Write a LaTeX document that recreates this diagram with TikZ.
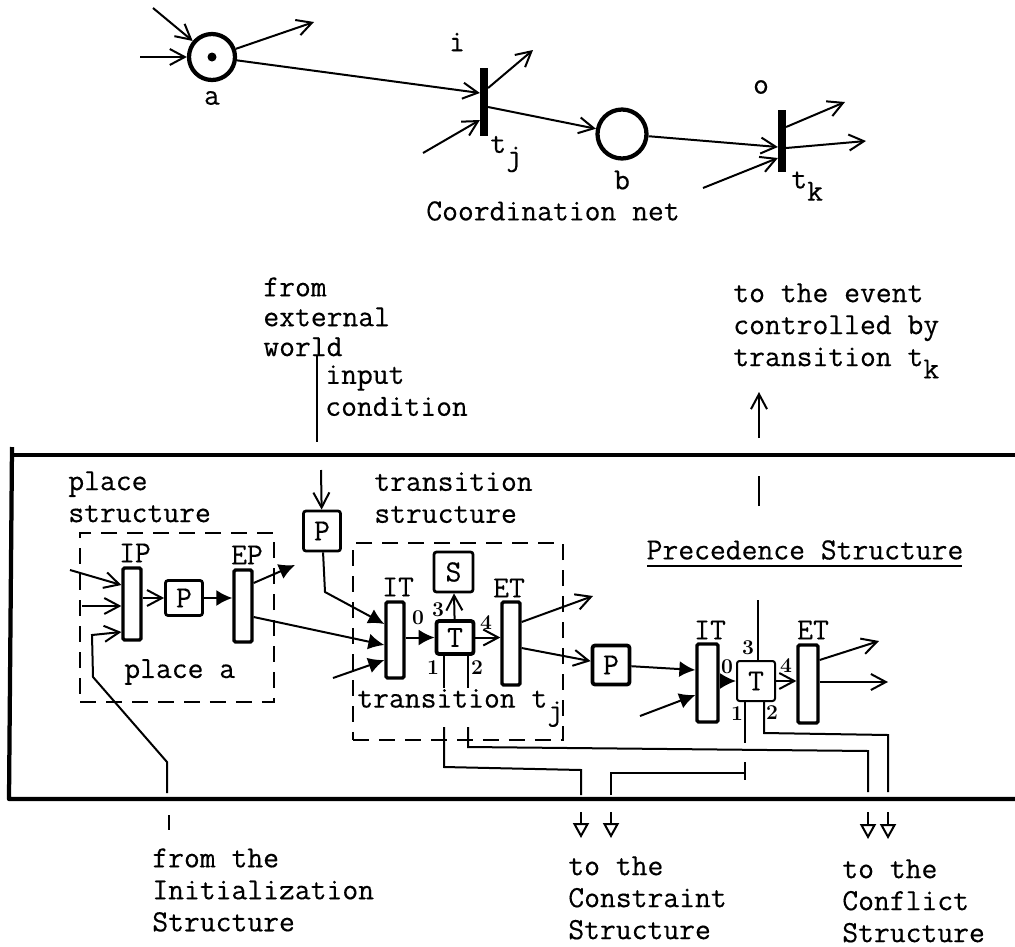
\documentclass[tikz,border=0pt]{standalone}
\usepackage{fontspec}
\usepackage{tikz}
\usetikzlibrary{arrows.meta}
\newfontfamily\typedfont[FakeBold=0.35]{Latin Modern Mono}
\tikzset{
  typed/.style={font=\typedfont\fontsize{17.5}{18.2}\selectfont, inner sep=0pt, align=left},
  smallnum/.style={font=\bfseries\fontsize{12}{12}\selectfont, inner sep=0pt},
  place/.style={circle, draw, line width=0.085cm, minimum size=0.92cm, inner sep=0pt},
  bar/.style={rectangle, fill=black, minimum width=0.15cm, inner sep=0pt},
  pbar/.style={rectangle, draw, line width=0.065cm, rounded corners=0.03cm, minimum width=0.36cm, inner sep=0pt},
  pbox/.style={rectangle, draw, line width=0.055cm, rounded corners=0.05cm, minimum width=0.74cm, minimum height=0.7cm, inner sep=0pt, typed},
  dashbox/.style={rectangle, draw, line width=0.03cm, dash pattern=on 0.32cm off 0.2cm, inner sep=0pt},
  conn/.style={line width=0.04cm},
  openarr/.style={conn, -{Straight Barb[length=0.3cm,width=0.32cm,line width=0.04cm]}},
  fillarr/.style={conn, -{Latex[length=0.32cm,width=0.32cm]}},
  holloarr/.style={conn, -{Triangle[open,length=0.3cm,width=0.32cm,line width=0.04cm]}},
  framerule/.style={line width=0.085cm, line join=round},
}
\newcommand{\lowered}[1]{\raisebox{-7pt}{#1}}
\begin{document}
\begin{tikzpicture}[x=0.02cm, y=-0.02cm]
  \useasboundingbox (0,0) rectangle (1015,947);

  % coordination net
  \node[place] (placeA) at (212,57) {};
  \node[place, minimum size=0.98cm] (placeB) at (622,134) {};
  \fill (placeA) circle (0.09cm);
  \node[bar, minimum height=1.36cm] (barJ) at (484,102) {};
  \node[bar, minimum height=1.24cm] (barK) at (782,141) {};
  \node[typed] (labA) at (212,98) {a};
  \node[typed] (labB) at (622,180) {b};
  \node[typed] (labI) at (457,42) {i};
  \node[typed] (labO) at (761,87) {o};
  \node[typed, anchor=west] (labJ) at (490,154) {t\lowered{j}};
  \node[typed, anchor=west] (labK) at (791,186) {t\lowered{k}};
  \node[typed] (labNet) at (553,211) {Coordination net};
  \coordinate (aIn1) at (153,8);
  \coordinate (aIn2) at (140,57);
  \coordinate (aOut) at (314,22);
  \coordinate (jIn) at (423,153);
  \coordinate (jOut) at (533,50);
  \coordinate (kIn) at (703,188);
  \coordinate (kOut1) at (845,102);
  \coordinate (kOut2) at (866,141);
  \draw[openarr] (aIn1) -- (placeA);
  \draw[openarr] (aIn2) -- (placeA);
  \draw[openarr] (placeA) -- (aOut);
  \draw[openarr] (placeA) -- (barJ.west |- 0,93);
  \draw[openarr] (jIn) -- (barJ.west |- 0,120);
  \draw[openarr] (barJ.east |- 0,88) -- (jOut);
  \draw[openarr] (barJ.east |- 0,107) -- (placeB);
  \draw[openarr] (placeB) -- (barK.west |- 0,147);
  \draw[openarr] (kIn) -- (barK.west |- 0,158);
  \draw[openarr] (barK.east |- 0,127) -- (kOut1);
  \draw[openarr] (barK.east |- 0,148) -- (kOut2);

  % texts around the frame
  \node[typed, anchor=north west, font=\typedfont\fontsize{17.5}{17}\selectfont] (labWorld) at (263,277) {from\\external\\world};
  \node[typed, anchor=north west] (labCond) at (325,365) {input\\condition};
  \node[typed, anchor=north west] (labEvent) at (733,283) {to the event\\controlled by\\transition t\lowered{k}};
  \node[typed, anchor=north west] (labPlace) at (68,471) {place\\structure};
  \node[typed, anchor=north west] (labTrans) at (374,472) {transition\\structure};
  \node[typed, anchor=north west] (labInit) at (152,848) {from the\\Initialization\\Structure};
  \node[typed, anchor=north west] (labCons) at (568,856) {to the\\Constraint\\Structure};
  \node[typed, anchor=north west] (labConf) at (842,859) {to the\\Conflict\\Structure};
  \node[typed] (labPrec) at (805,550) {Precedence Structure};
  \draw[conn] (647,566) -- (962,566);

  \draw[framerule] (1015,455) -- (11,455);
  \draw[framerule] (12,447) -- (9,799) -- (1015,799);

  % place structure
  \node[dashbox, minimum width=3.88cm, minimum height=3.38cm] (boxPlace) at (177,617.5) {};
  \node[pbar, minimum height=1.44cm] (barIP) at (132,604) {};
  \node[pbar, minimum height=1.44cm] (barEP) at (243,606) {};
  \node[pbox] (boxP1) at (184,598) {P};
  \node[pbox, minimum height=0.8cm] (boxP0) at (322,531) {P};
  \node[typed] (labIP) at (135,553) {IP};
  \node[typed] (labEP) at (247,555) {EP};
  \node[typed, anchor=west] (labPA) at (124,672) {place a};

  % transition structure
  \node[dashbox, minimum width=4.2cm, minimum height=3.94cm] (boxTrans) at (458,641.5) {};
  \node[pbar, minimum height=1.52cm] (barIT) at (395,640) {};
  \node[pbar, minimum height=1.66cm] (barET) at (511,643.5) {};
  \node[pbox, minimum height=0.66cm, line width=0.075cm] (boxT) at (455,637.5) {T};
  \node[pbox, minimum width=0.78cm, minimum height=0.8cm] (boxS) at (453.5,572) {S};
  \node[pbox, line width=0.075cm, minimum height=0.78cm] (boxP2) at (611,665) {P};
  \node[typed] (labIT) at (398,587) {IT};
  \node[typed] (labET) at (509,588) {ET};
  \node[typed, anchor=west] (labTJ) at (357,708) {transition t\lowered{j}};
  \node[smallnum] (numA0) at (418,618) {0};
  \node[smallnum] (numA3) at (438,610) {3};
  \node[smallnum] (numA4) at (486,623) {4};
  \node[smallnum] (numA1) at (433,668) {1};
  \node[smallnum] (numA2) at (477,668) {2};

  % precedence structure
  \node[pbar, minimum width=0.42cm, minimum height=1.56cm] (barIT2) at (707.5,683) {};
  \node[pbar, minimum width=0.4cm, minimum height=1.56cm] (barET2) at (808,684) {};
  \node[pbox, minimum width=0.76cm, minimum height=0.8cm, line width=0.04cm] (boxT2) at (756,681) {T};
  \node[typed] (labIT2) at (710,630) {IT};
  \node[typed] (labET2) at (813,630) {ET};
  \node[smallnum] (numB0) at (727,667) {0};
  \node[smallnum] (numB3) at (748,648) {3};
  \node[smallnum] (numB4) at (786,666) {4};
  \node[smallnum] (numB1) at (737,714) {1};
  \node[smallnum] (numB2) at (772,713) {2};

  % inputs and outputs of the structures
  \coordinate (ipIn1) at (70,570);
  \coordinate (ipIn2) at (82,606);
  \coordinate (ipIn3) at (167,793);
  \coordinate (ipBend1) at (167,762);
  \coordinate (ipBend2) at (93,677);
  \coordinate (ipBend3) at (92,635);
  \coordinate (epOut) at (295,565);
  \coordinate (itIn3) at (333,678);
  \coordinate (p0Bend) at (325,592);
  \coordinate (condTop) at (317,356);
  \coordinate (condEnd) at (317,442);
  \coordinate (condIn) at (321,470);
  \coordinate (etOut) at (593,596);
  \coordinate (it2In) at (640,716);
  \coordinate (et2Out1) at (879,641);
  \coordinate (et2Out2) at (888,682);
  \coordinate (evtLow) at (759,506);
  \coordinate (evtMid) at (759,476);
  \coordinate (evtGap) at (759,438);
  \coordinate (evtTop) at (759,392);
  \coordinate (t3Top) at (758,600);
  \coordinate (initTop) at (169,815);
  \coordinate (initEnd) at (169,830);

  \draw[openarr] (ipIn1) -- (barIP.west |- 0,585);
  \draw[openarr] (ipIn2) -- (barIP.west |- 0,606);
  \draw[openarr] (ipIn3) -- (ipBend1) -- (ipBend2) -- (ipBend3) -- (barIP.west |- 0,632);
  \draw[conn] (initTop) -- (initEnd);
  \draw[openarr] (barIP.east |- boxP1) -- (boxP1);
  \draw[fillarr] (boxP1) -- (barEP.west |- boxP1);
  \draw[fillarr] (barEP.east |- 0,583) -- (epOut);
  \draw[fillarr] (barEP.east |- 0,617) -- (barIT.west |- 0,645);
  \draw[conn] (condTop) -- (condEnd);
  \draw[openarr] (condIn) -- (boxP0);
  \draw[fillarr] (boxP0) -- (p0Bend) -- (barIT.west |- 0,624);
  \draw[fillarr] (itIn3) -- (barIT.west |- 0,660);
  \draw[fillarr] (barIT.east |- boxT) -- (boxT);
  \draw[openarr] (boxT) -- (boxS);
  \draw[openarr] (boxT) -- (barET.west |- boxT);
  \draw[openarr] (barET.east |- 0,622) -- (etOut);
  \draw[openarr] (barET.east |- 0,648) -- (boxP2);
  \draw[fillarr] (boxP2) -- (barIT2.west |- 0,670);
  \draw[fillarr] (it2In) -- (barIT2.west |- 0,695);
  \draw[fillarr] (barIT2.east |- boxT2) -- (boxT2);
  \draw[openarr] (boxT2) -- (barET2.west |- boxT2);
  \draw[openarr] (barET2.east |- 0,660) -- (et2Out1);
  \draw[openarr] (barET2.east |- 0,682) -- (et2Out2);
  \draw[conn] (t3Top) -- (boxT2.north -| t3Top);
  \draw[conn] (evtLow) -- (evtMid);
  \draw[openarr] (evtGap) -- (evtTop);

  % wires to the constraint and conflict structures
  \coordinate (tA1) at (444,688);
  \coordinate (tA2) at (468,688);
  \coordinate (wA1) at (444,727);
  \coordinate (wA2) at (468,727);
  \coordinate (tB1) at (745,743);
  \coordinate (cons1) at (581,795);
  \coordinate (cons2) at (611,795);
  \coordinate (conf1) at (868,792);
  \coordinate (conf2) at (888,792);
  \coordinate (consT1) at (581,812);
  \coordinate (consB1) at (581,838);
  \coordinate (consT2) at (611,812);
  \coordinate (consB2) at (611,838);
  \coordinate (confT1) at (868,812);
  \coordinate (confB1) at (868,839);
  \coordinate (confT2) at (888,812);
  \coordinate (confB2) at (888,839);
  \coordinate (tick1) at (745,762);
  \coordinate (tick2) at (745,780);
  \draw[conn] (boxT.south -| tA1) -- (tA1);
  \draw[conn] (boxT.south -| tA2) -- (tA2);
  \draw[conn] (wA1) -- (444,767) -- (581,770) -- (cons1);
  \draw[conn] (wA2) -- (468,747) -- (868,751) -- (conf1);
  \draw[conn] (boxT2.south -| tB1) -- (tB1);
  \draw[conn] (tick1) -- (tick2);
  \draw[conn] (cons2) -- (611,773) -- (745,773);
  \draw[conn] (boxT2.south -| 764,0) -- (764,733) -- (888,735) -- (conf2);
  \draw[holloarr] (consT1) -- (consB1);
  \draw[holloarr] (consT2) -- (consB2);
  \draw[holloarr] (confT1) -- (confB1);
  \draw[holloarr] (confT2) -- (confB2);
\end{tikzpicture}
\end{document}
